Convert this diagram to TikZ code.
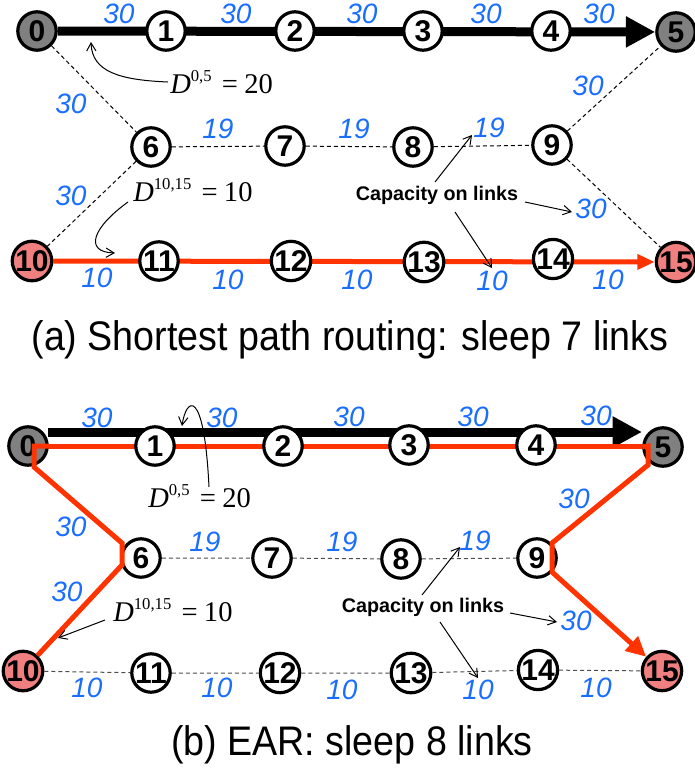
\documentclass[tikz,border=0pt]{standalone}
\usepackage{fontspec}
\usetikzlibrary{arrows.meta}
\newfontfamily\arialf{Liberation Sans}
\newfontfamily\timesf{Liberation Serif}
\definecolor{capblue}{RGB}{25,110,255}
\definecolor{pathred}{RGB}{255,51,0}
\definecolor{termgray}{RGB}{128,128,128}
\definecolor{destpink}{RGB}{240,128,128}
\pgfdeclarelayer{background}
\pgfsetlayers{background,main}
% demand label D^{s,t} = v
\newcommand\demandtext[2]{\textit{D}\raisebox{0.4em}{\fontsize{12.5}{12.5}\selectfont #1}\hspace{0.36em}=\hspace{0.22em}#2}
\tikzset{
  vtx/.style={circle, draw=black, line width=2.4pt, fill=white, minimum size=28.8pt,
    inner sep=0pt, font=\arialf\bfseries\fontsize{22.5}{22.5}\selectfont},
  srcvtx/.style={vtx, fill=termgray},
  dstvtx/.style={vtx, fill=destpink},
  caplbl/.style={text=capblue, inner sep=0pt, font=\arialf\itshape\fontsize{21}{21}\selectfont},
  demand/.style={anchor=base west, inner sep=0pt, font=\timesf\fontsize{21.4}{24}\selectfont},
  notelbl/.style={inner sep=0pt, font=\arialf\bfseries\fontsize{14.8}{15}\selectfont},
  caption/.style={inner sep=0pt, font=\arialf\fontsize{31}{33}\selectfont},
  idle/.style={line width=0.75pt, dash pattern=on 3pt off 2.25pt},
  idlegray/.style={idle, draw=black!70},
  heavy/.style={line width=6.75pt, -{Triangle[length=22pt,width=22pt]}},
  route/.style={draw=pathred, line width=3.75pt, line join=miter},
  ann/.style={line width=0.75pt, -{Straight Barb[length=6pt,width=7pt]}},
}
\begin{document}
\begin{tikzpicture}[x=0.75pt,y=-0.75pt]
\useasboundingbox (0,0) rectangle (694,778);

% ---------------- (a) shortest path routing ----------------
\node[srcvtx] (a0) at (37,31) {0};
\node[vtx] (a1) at (166,31) {1};
\node[vtx] (a2) at (295,31) {2};
\node[vtx] (a3) at (423,31) {3};
\node[vtx] (a4) at (551,31) {4};
\node[srcvtx] (a5) at (676,32) {5};
\node[vtx] (a6) at (151,147) {6};
\node[vtx] (a7) at (285,146) {7};
\node[vtx] (a8) at (413,147) {8};
\node[vtx] (a9) at (552,145) {9};
\node[dstvtx] (a10) at (32,261) {10};
\node[vtx] (a11) at (159,261) {11};
\node[vtx] (a12) at (291,261) {12};
\node[vtx] (a13) at (424,262) {13};
\node[vtx] (a14) at (553,259) {14};
\node[dstvtx] (a15) at (676,262) {15};

\begin{pgfonlayer}{background}
  \draw[heavy] (a0) -- (a5);
  \draw[route, -{Triangle[length=13pt,width=11pt]}] (a10) -- (a15);
\end{pgfonlayer}
\draw[idle] (a0) -- (a6) -- (a10);
\draw[idle] (a6) -- (a7) -- (a8) -- (a9) -- (a5);
\draw[idle] (a9) -- (a15);

\foreach \n/\x/\y/\t in {1/119/14/30, 2/236/14/30, 3/362/14/30, 4/486/14/30, 5/599/14/30,
    6/71/104/30, 7/218/129/19, 8/354/129/19, 9/489/128/19, 10/588/86/30,
    11/71/196/30, 12/591/209/30, 13/97/278/10, 14/228/280/10, 15/357/280/10,
    16/492/281/10, 17/608/280/10}
  \node[caplbl] (la\n) at (\x,\y) {\t};

\node[demand] (da1) at (170,93) {\demandtext{0,5}{20}};
\node[demand] (da2) at (133,201) {\demandtext{10,15}{10}};
\coordinate (da1s) at (168,82);
\coordinate (da1t) at (91,42);
\coordinate (da2s) at (128,202);
\coordinate (da2t) at (115,253);
\draw[ann] (da1s) .. controls (120,80) and (92,72) .. (da1t);
\draw[ann] (da2s) .. controls (92,228) and (84,252) .. (da2t);

\node[notelbl] (ka) at (437,195) {Capacity on links};
\coordinate (ka1s) at (435,182);
\coordinate (ka1t) at (472,135);
\coordinate (ka2s) at (525,202);
\coordinate (ka2t) at (572,212);
\coordinate (ka3s) at (455,212);
\coordinate (ka3t) at (492,268);
\draw[ann] (ka1s) -- (ka1t);
\draw[ann] (ka2s) -- (ka2t);
\draw[ann] (ka3s) -- (ka3t);

\node[caption] (capa) at (350,340) {\scalebox{0.91}[1]{(a) Shortest path routing: sleep 7 links}};

% ---------------- (b) EAR ----------------
\node[srcvtx] (b0) at (28,446) {0};
\node[vtx] (b1) at (155,446) {1};
\node[vtx] (b2) at (283,446) {2};
\node[vtx] (b3) at (409,445) {3};
\node[vtx] (b4) at (536,445) {4};
\node[srcvtx] (b5) at (663,447) {5};
\node[vtx] (b6) at (141,558) {6};
\node[vtx] (b7) at (272,558) {7};
\node[vtx] (b8) at (401,559) {8};
\node[vtx] (b9) at (537,558) {9};
\node[dstvtx] (b10) at (23,671) {10};
\node[vtx] (b11) at (151,673) {11};
\node[vtx] (b12) at (280,673) {12};
\node[vtx] (b13) at (411,673) {13};
\node[vtx] (b14) at (538,670) {14};
\node[dstvtx] (b15) at (662,671) {15};

\coordinate (bk0) at (48,432);
\coordinate (bk5) at (642,432);
\coordinate (rA) at (34,446);
\coordinate (rA2) at (34,467);
\coordinate (r6a) at (122,543);
\coordinate (r6b) at (122,565);
\coordinate (rB) at (648,446);
\coordinate (rB2) at (648,465);
\coordinate (r9a) at (552,543);
\coordinate (r9b) at (552,572);

\begin{pgfonlayer}{background}
  \draw[heavy] (bk0) -- (bk5);
  \draw[route] (rA) -- (rB);
\end{pgfonlayer}
\draw[idlegray] (b6) -- (b7) -- (b8) -- (b9);
\draw[idlegray] (b10) -- (b11) -- (b12) -- (b13) -- (b14) -- (b15);
\draw[route] (b0.east) -- (rA) -- (rA2) -- (r6a) -- (r6b) -- (b10);
\draw[route, -{Triangle[length=15pt,width=14pt]}] (b5.west) -- (rB) -- (rB2) -- (r9a) -- (r9b) -- (b15);

\foreach \n/\x/\y/\t in {1/97/418/30, 2/222/418/30, 3/349/417/30, 4/473/417/30, 5/596/416/30,
    6/71/527/30, 7/205/542/19, 8/342/542/19, 9/475/541/19, 10/574/499/30,
    11/67/592/30, 12/576/621/30, 13/87/688/10, 14/217/688/10, 15/342/690/10,
    16/478/690/10, 17/596/688/10}
  \node[caplbl] (lb\n) at (\x,\y) {\t};

\node[demand] (db1) at (148,507) {\demandtext{0,5}{20}};
\node[demand] (db2) at (113,621) {\demandtext{10,15}{10}};
\coordinate (db1s) at (209,487);
\coordinate (db1t) at (182,426);
\coordinate (db2s) at (105,620);
\coordinate (db2t) at (58,638);
\draw[ann] (db1s) .. controls (204,385) and (186,398) .. (db1t);
\draw[ann] (db2s) -- (db2t);

\node[notelbl] (kb) at (423,607) {Capacity on links};
\coordinate (kb1s) at (422,595);
\coordinate (kb1t) at (460,547);
\coordinate (kb2s) at (510,613);
\coordinate (kb2t) at (557,622);
\coordinate (kb3s) at (440,622);
\coordinate (kb3t) at (478,678);
\draw[ann] (kb1s) -- (kb1t);
\draw[ann] (kb2s) -- (kb2t);
\draw[ann] (kb3s) -- (kb3t);

\node[caption] (capb) at (352,745) {\scalebox{0.91}[1]{(b) EAR: sleep 8 links}};
\end{tikzpicture}
\end{document}
